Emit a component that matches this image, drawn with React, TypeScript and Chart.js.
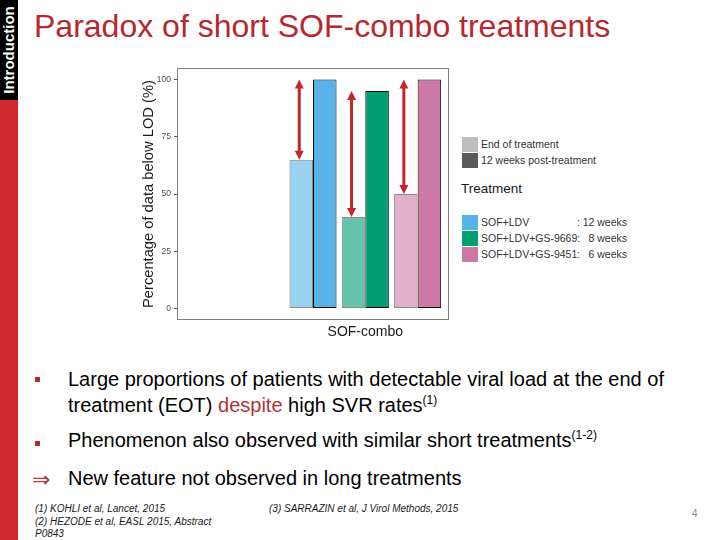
import React, { useEffect, useRef } from "react";
import { Chart, registerables } from "chart.js";

Chart.register(...registerables);

// ---------- data ----------
const treatments = ["SOF+LDV", "SOF+LDV+GS-9669", "SOF+LDV+GS-9451"];
const durations = ["12 weeks", "8 weeks", "6 weeks"];
const endOfTreatment = [65, 40, 50];
const postTreatment12w = [100, 95, 100];
const yTicks = [0, 25, 50, 75, 100];
const timepoints = ["End of treatment", "12 weeks post-treatment"];
const xAxisLabel = "SOF-combo";
const yAxisTitle = "Percentage of data below LOD (%)";
const legendTitle = "Treatment";

const treatmentColors = ["#56B4E9", "#009E73", "#CC79A7"];
const timepointColors = ["#BEBEBE", "#595959"];

const FONT = "'Liberation Sans', Arial, Helvetica, sans-serif";
const RED = "#b8272f";
const ARROW = "#c1272d";

function withAlpha(hex: string, a: number) {
  const r = parseInt(hex.slice(1, 3), 16);
  const g = parseInt(hex.slice(3, 5), 16);
  const b = parseInt(hex.slice(5, 7), 16);
  return `rgba(${r},${g},${b},${a})`;
}

// two empty leading slots of the original discrete axis
const LEAD = 2;
const slotX = (i: number) => i + LEAD;

const panelBorder = {
  id: "panelBorder",
  afterDraw(chart: any) {
    const { ctx, chartArea: a } = chart;
    ctx.save();
    ctx.strokeStyle = "#7f7f7f";
    ctx.lineWidth = 1;
    ctx.strokeRect(Math.round(a.left) + 0.5, Math.round(a.top) + 0.5, Math.round(a.right - a.left) - 1, Math.round(a.bottom - a.top) - 1);
    ctx.restore();
  },
};

const arrows = {
  id: "arrows",
  afterDatasetsDraw(chart: any) {
    const { ctx } = chart;
    const meta = chart.getDatasetMeta(0);
    const ys = chart.scales.y;
    ctx.save();
    ctx.strokeStyle = ARROW;
    ctx.fillStyle = ARROW;
    ctx.lineWidth = 3;
    const head = 9;
    const hw = 4.5;
    endOfTreatment.forEach((v, i) => {
      const el = meta.data[i];
      if (!el) return;
      const x = el.x - 2;
      const yLow = ys.getPixelForValue(v);
      const yHigh = ys.getPixelForValue(postTreatment12w[i]);
      ctx.beginPath();
      ctx.moveTo(x, yHigh + head - 1);
      ctx.lineTo(x, yLow - head + 1);
      ctx.stroke();
      ctx.beginPath();
      ctx.moveTo(x, yHigh);
      ctx.lineTo(x - hw, yHigh + head);
      ctx.lineTo(x + hw, yHigh + head);
      ctx.closePath();
      ctx.fill();
      ctx.beginPath();
      ctx.moveTo(x, yLow);
      ctx.lineTo(x - hw, yLow - head);
      ctx.lineTo(x + hw, yLow - head);
      ctx.closePath();
      ctx.fill();
    });
    ctx.restore();
  },
};

function BarChart() {
  const ref = useRef<HTMLCanvasElement | null>(null);
  useEffect(() => {
    if (!ref.current) return;
    const chart = new Chart(ref.current, {
      type: "bar",
      data: {
        datasets: [
          {
            label: timepoints[0],
            data: endOfTreatment.map((v, i) => ({ x: slotX(i), y: v })),
            backgroundColor: treatmentColors.map((c) => withAlpha(c, 0.6)),
            borderColor: "#8a8a8a",
            borderWidth: 1,
            borderSkipped: false,
          },
          {
            label: timepoints[1],
            data: postTreatment12w.map((v, i) => ({ x: slotX(i), y: v })),
            backgroundColor: treatmentColors,
            borderColor: "#000000",
            borderWidth: 1,
            borderSkipped: false,
          },
        ],
      } as any,
      options: {
        animation: false,
        responsive: true,
        maintainAspectRatio: false,
        layout: { padding: { top: 4, right: 6, left: 0, bottom: 0 } },
        datasets: { bar: { categoryPercentage: 0.9, barPercentage: 1.0, grouped: true } } as any,
        plugins: { legend: { display: false }, tooltip: { enabled: false } },
        scales: {
          x: {
            type: "linear",
            min: -0.6,
            max: treatments.length + LEAD - 1 + 0.6,
            offset: false,
            grid: { display: false, drawTicks: false, tickLength: 0, offset: false },
            border: { display: false },
            afterBuildTicks: (s: any) => {
              s.ticks = [{ value: slotX(Math.floor(treatments.length / 2)) }];
            },
            afterFit: (s: any) => {
              s.height = 25;
            },
            ticks: {
              callback: () => xAxisLabel,
              font: { family: FONT, size: 14 },
              color: "#1a1a1a",
              padding: 4,
              maxRotation: 0,
              autoSkip: false,
            },
          },
          y: {
            type: "linear",
            min: -5,
            max: 105,
            grid: { drawOnChartArea: false, drawTicks: true, tickLength: 3, color: "#555555" },
            border: { display: false },
            afterBuildTicks: (s: any) => {
              s.ticks = yTicks.map((v) => ({ value: v }));
            },
            afterFit: (s: any) => {
              s.width = 47;
            },
            ticks: {
              font: { family: FONT, size: 8.5 },
              color: "#4d4d4d",
              padding: 3,
            },
            title: {
              display: true,
              text: yAxisTitle,
              font: { family: FONT, size: 14.7 },
              color: "#1a1a1a",
              padding: { top: 10, bottom: 0 },
            },
          },
        },
      } as any,
      plugins: [panelBorder, arrows],
    });
    return () => chart.destroy();
  }, []);
  return <canvas ref={ref} />;
}

const abs = (s: React.CSSProperties): React.CSSProperties => ({ position: "absolute", ...s });

function Legend() {
  const keyW = 16;
  const keyH = 15;
  const textStyle: React.CSSProperties = { fontSize: 10.5, color: "#333", lineHeight: `${keyH}px`, whiteSpace: "nowrap" };
  return (
    <>
      {timepoints.map((t, i) => (
        <React.Fragment key={t}>
          <div style={abs({ left: 462, top: 137 + i * 16, width: keyW, height: keyH, background: timepointColors[i] })} />
          <div style={abs({ left: 481, top: 137 + i * 16, ...textStyle })}>{t}</div>
        </React.Fragment>
      ))}
      <div style={abs({ left: 461, top: 181, fontSize: 13.5, lineHeight: "16px", color: "#1a1a1a" })}>{legendTitle}</div>
      {treatments.map((t, i) => (
        <React.Fragment key={t}>
          <div style={abs({ left: 462, top: 215 + i * 16, width: keyW, height: keyH, background: treatmentColors[i] })} />
          <div style={abs({ left: 481, top: 215 + i * 16, ...textStyle })}>{t}</div>
          <div style={abs({ left: 577, top: 215 + i * 16, width: 50, display: "flex", justifyContent: "space-between", ...textStyle })}>
            <span>:</span>
            <span>{durations[i]}</span>
          </div>
        </React.Fragment>
      ))}
    </>
  );
}

const sup = (t: string) => (
  <span style={{ fontSize: 12, position: "relative", top: -8 }}>{t}</span>
);

export default function App() {
  return (
    <div style={abs({ left: 0, top: 0, width: 720, height: 540, overflow: "hidden", background: "#fff", fontFamily: FONT, color: "#000" })}>
      {/* sidebar */}
      <div style={abs({ left: 0, top: 0, width: 18, height: 540, background: "#d0282e" })} />
      <div style={abs({ left: 0, top: 0, width: 18, height: 100, background: "#000" })} />
      <div
        style={abs({
          left: -41,
          top: 41,
          width: 100,
          height: 18,
          transform: "rotate(-90deg)",
          color: "#fff",
          fontWeight: "bold",
          fontSize: 15,
          lineHeight: "18px",
          textAlign: "center",
          whiteSpace: "nowrap",
        })}
      >
        Introduction
      </div>

      {/* title */}
      <div style={abs({ left: 34, top: 11, fontSize: 32, lineHeight: "31px", color: RED, whiteSpace: "nowrap" })}>
        Paradox of short SOF-combo treatments
      </div>

      {/* chart */}
      <div style={abs({ left: 130, top: 60, width: 325, height: 285 })}>
        <BarChart />
      </div>
      <Legend />

      {/* bullets */}
      <div style={abs({ left: 35, top: 377, width: 5, height: 5, background: RED })} />
      <div style={abs({ left: 68, top: 366, fontSize: 20, lineHeight: "26px", whiteSpace: "nowrap" })}>
        Large proportions of patients with detectable viral load at the end of
        <br />
        treatment (EOT) <span style={{ color: "#b2323c" }}>despite</span> high SVR rates{sup("(1)")}
      </div>
      <div style={abs({ left: 35, top: 441, width: 5, height: 5, background: RED })} />
      <div style={abs({ left: 68, top: 427, fontSize: 20, lineHeight: "26px", whiteSpace: "nowrap" })}>
        Phenomenon also observed with similar short treatments{sup("(1-2)")}
      </div>
      <div style={abs({ left: 32, top: 469, fontSize: 22, lineHeight: "22px", fontFamily: "'DejaVu Sans', sans-serif", color: "#b33a44" })}>⇒</div>
      <div style={abs({ left: 68, top: 465, fontSize: 20, lineHeight: "26px", whiteSpace: "nowrap" })}>
        New feature not observed in long treatments
      </div>

      {/* footnotes */}
      <div style={abs({ left: 35, top: 503, fontSize: 10, lineHeight: "12.5px", fontStyle: "italic", color: "#1a1a1a", whiteSpace: "nowrap" })}>
        (1) KOHLI et al, Lancet, 2015
        <br />
        (2) HEZODE et al, EASL 2015, Abstract
        <br />
        P0843
      </div>
      <div style={abs({ left: 269, top: 503, fontSize: 10, lineHeight: "12.5px", fontStyle: "italic", color: "#1a1a1a", whiteSpace: "nowrap" })}>
        (3) SARRAZIN et al, J Virol Methods, 2015
      </div>
      <div style={abs({ left: 692, top: 508, fontSize: 10, lineHeight: "12px", color: "#888" })}>4</div>
    </div>
  );
}
